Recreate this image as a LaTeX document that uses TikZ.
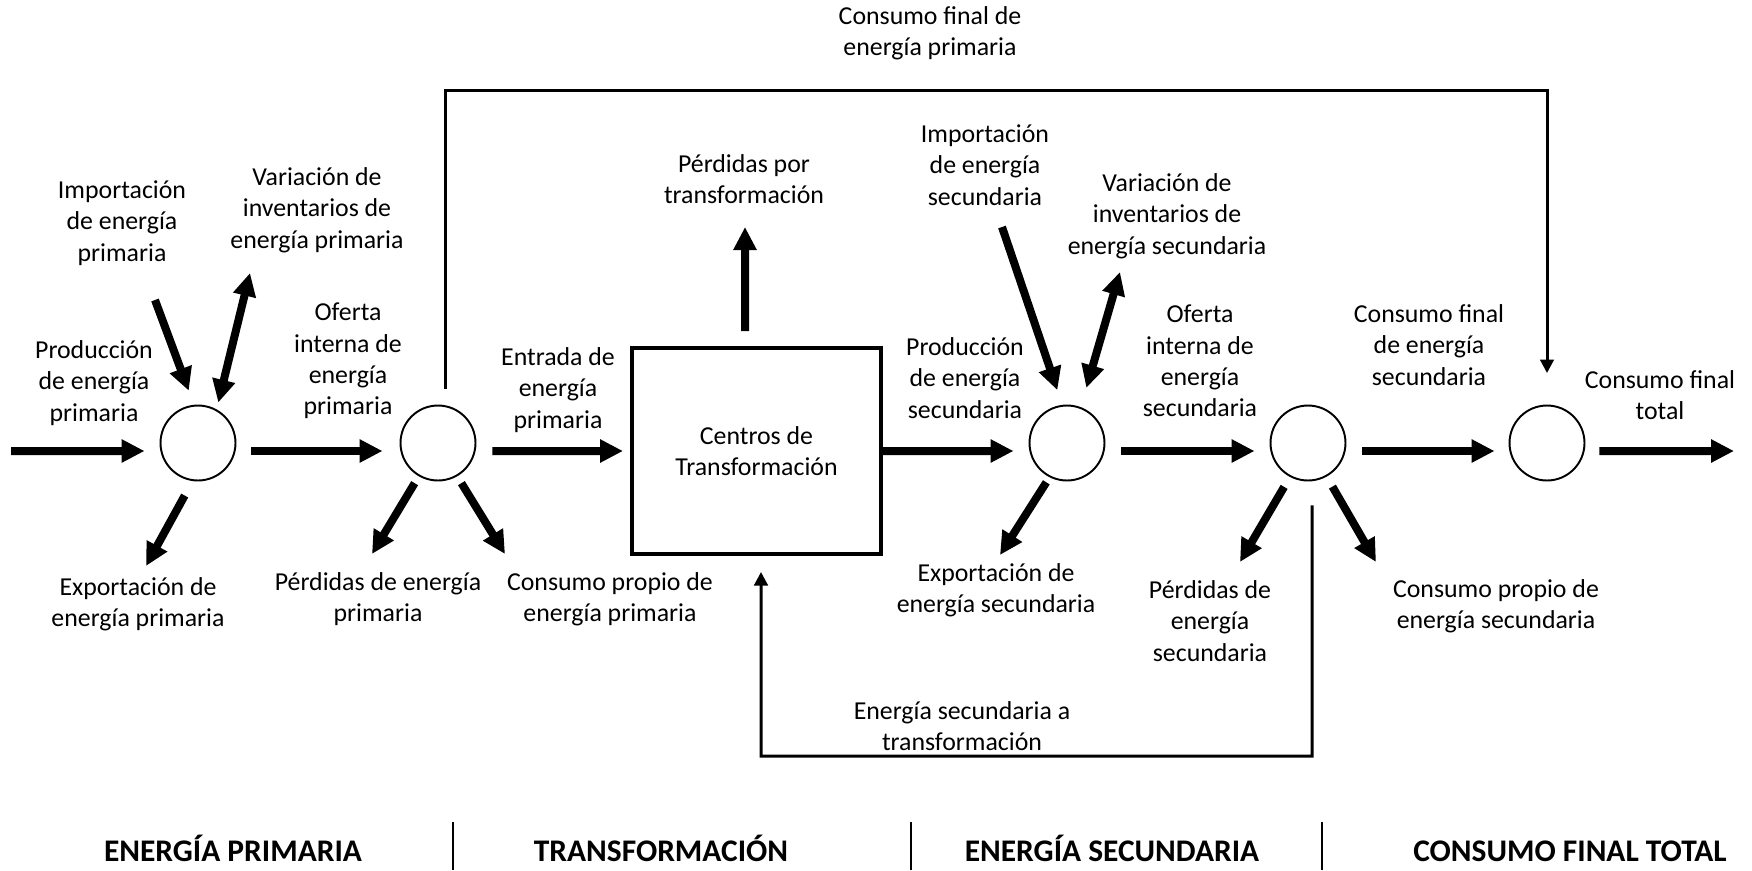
\documentclass[tikz,border=0pt]{standalone}
\usepackage{fontspec}
\setmainfont{Carlito}
\usetikzlibrary{arrows.meta}

\tikzset{
  nodo/.style={circle, draw, line width=1.1pt, minimum size=1.5cm, inner sep=0pt},
  centro/.style={draw, line width=2.3pt, minimum width=4.98cm, minimum height=4.12cm, align=center, inner sep=0pt, font=\fontsize{14.7}{17.9}\selectfont},
  etiqueta/.style={align=center, inner sep=0pt, font=\fontsize{14.7}{17.9}\selectfont},
  seccion/.style={anchor=base, inner sep=0pt, font=\bfseries\fontsize{17.9}{21}\selectfont},
  grueso/.style={line width=0.16cm, -{Triangle[length=0.46cm,width=0.44cm]}},
  doble/.style={line width=0.16cm, {Triangle[length=0.46cm,width=0.44cm]}-{Triangle[length=0.46cm,width=0.44cm]}},
  flujo/.style={line width=0.06cm, -{Triangle[length=0.27cm,width=0.27cm]}},
  separador/.style={line width=0.03cm}
}

\begin{document}
\begin{tikzpicture}[x=0.02cm, y=-0.02cm]
\useasboundingbox (0,0) rectangle (1752,870);

\node [nodo] (c1) at (198,443) {};
\node [nodo] (c2) at (438,443) {};
\node [centro] (box) at (756.5,451) {Centros de\\Transformación};
\node [nodo] (c3) at (1067,443) {};
\node [nodo] (c4) at (1308,443) {};
\node [nodo] (c5) at (1547,443) {};

\node [etiqueta] (impP) at (122,223) {Importación\\de energía\\primaria};
\node [etiqueta] (varP) at (317,210) {Variación de\\inventarios de\\energía primaria};
\node [etiqueta] (prodP) at (94,383) {Producción\\de energía\\primaria};
\node [etiqueta] (ofP) at (348,361) {Oferta\\interna de\\energía\\primaria};
\node [etiqueta] (entP) at (558,390) {Entrada de\\energía\\primaria};
\node [etiqueta] (expP) at (138,604) {Exportación de\\energía primaria};
\node [etiqueta] (perP) at (378,599) {Pérdidas de energía\\primaria};
\node [etiqueta] (cprP) at (610,599) {Consumo propio de\\energía primaria};
\node [etiqueta] (perT) at (744,179) {Pérdidas por\\transformación};
\node [etiqueta] (impS) at (985,165) {Importación\\de energía\\secundaria};
\node [etiqueta] (varS) at (1167,216) {Variación de\\inventarios de\\energía secundaria};
\node [etiqueta] (prodS) at (965,378) {Producción\\de energía\\secundaria};
\node [etiqueta] (ofS) at (1200,361) {Oferta\\interna de\\energía\\secundaria};
\node [etiqueta] (expS) at (996,590) {Exportación de\\energía secundaria};
\node [etiqueta] (perS) at (1210,621) {Pérdidas de\\energía\\secundaria};
\node [etiqueta] (cfS) at (1429,345) {Consumo final\\de energía\\secundaria};
\node [etiqueta] (cprS) at (1496,606) {Consumo propio de\\energía secundaria};
\node [etiqueta] (cfT) at (1660,395) {Consumo final\\total};
\node [etiqueta] (cfP) at (930,33) {Consumo final de\\energía primaria};
\node [etiqueta] (esT) at (962,726) {Energía secundaria a\\transformación};

\node [seccion] (secP) at (233,861) {ENERGÍA PRIMARIA};
\node [seccion] (secT) at (661,861) {TRANSFORMACIÓN};
\node [seccion] (secS) at (1112,861) {ENERGÍA SECUNDARIA};
\node [seccion] (secC) at (1570,861) {CONSUMO FINAL TOTAL};
\draw [separador] (453,822) -- (453,870);
\draw [separador] (911,822) -- (911,870);
\draw [separador] (1322,822) -- (1322,870);

\coordinate (in-a) at (11,451);
\coordinate (out-a) at (1734,451);
\coordinate (impP-a) at (155,300);
\coordinate (varP-a) at (250,273);
\coordinate (expP-a) at (146,566);
\coordinate (perP-a) at (372,554);
\coordinate (cprP-a) at (505,554);
\coordinate (perT-a) at (745,227);
\coordinate (impS-a) at (1002,227);
\coordinate (varS-a) at (1120,272);
\coordinate (expS-a) at (1000,555);
\coordinate (perS-a) at (1240,562);
\coordinate (cprS-a) at (1376,562);
\coordinate (topR) at (1547,90);
\coordinate (botL) at (761,756);

\draw [grueso, shorten >=0.3cm] (in-a) -- ([yshift=-0.16cm]c1.west);
\draw [grueso, shorten <=0.3cm, shorten >=0.34cm] ([yshift=-0.16cm]c1.east) -- ([yshift=-0.16cm]c2.west);
\draw [grueso, shorten <=0.32cm, shorten >=0.14cm] ([yshift=-0.16cm]c2.east) -- (box.west);
\draw [grueso, shorten >=0.3cm] (box.east) -- ([yshift=-0.16cm]c3.west);
\draw [grueso, shorten <=0.32cm, shorten >=0.3cm] ([yshift=-0.16cm]c3.east) -- ([yshift=-0.16cm]c4.west);
\draw [grueso, shorten <=0.32cm, shorten >=0.28cm] ([yshift=-0.16cm]c4.east) -- ([yshift=-0.16cm]c5.west);
\draw [grueso, shorten <=0.28cm] ([yshift=-0.16cm]c5.east) -- (out-a);

\draw [grueso, shorten >=0.3cm] (impP-a) -- (c1.96);
\draw [doble, shorten >=0.14cm] (varP-a) -- (c1.61);
\draw [grueso, shorten <=0.33cm] (c1.262) -- (expP-a);
\draw [grueso, shorten <=0.16cm] (c2.240) -- (perP-a);
\draw [grueso, shorten <=0.16cm] (c2.300) -- (cprP-a);
\draw [grueso] ([xshift=-0.23cm,yshift=0.3cm]box.north) -- (perT-a);
\draw [grueso, shorten >=0.31cm] (impS-a) -- (c3.97);
\draw [doble, shorten >=0.4cm] (varS-a) -- (c3.69);
\draw [grueso, shorten <=0.12cm] (c3.243) -- (expS-a);
\draw [grueso, shorten <=0.23cm] (c4.242) -- (perS-a);
\draw [grueso, shorten <=0.23cm] (c4.299) -- (cprS-a);

\draw [flujo] ([xshift=0.14cm,yshift=0.32cm]c2.north) |- (topR) -- ([yshift=0.63cm]c5.north);
\draw [flujo] ([xshift=0.08cm,yshift=-0.48cm]c4.south) |- (botL) -- ([xshift=0.09cm,yshift=-0.32cm]box.south);
\end{tikzpicture}
\end{document}
